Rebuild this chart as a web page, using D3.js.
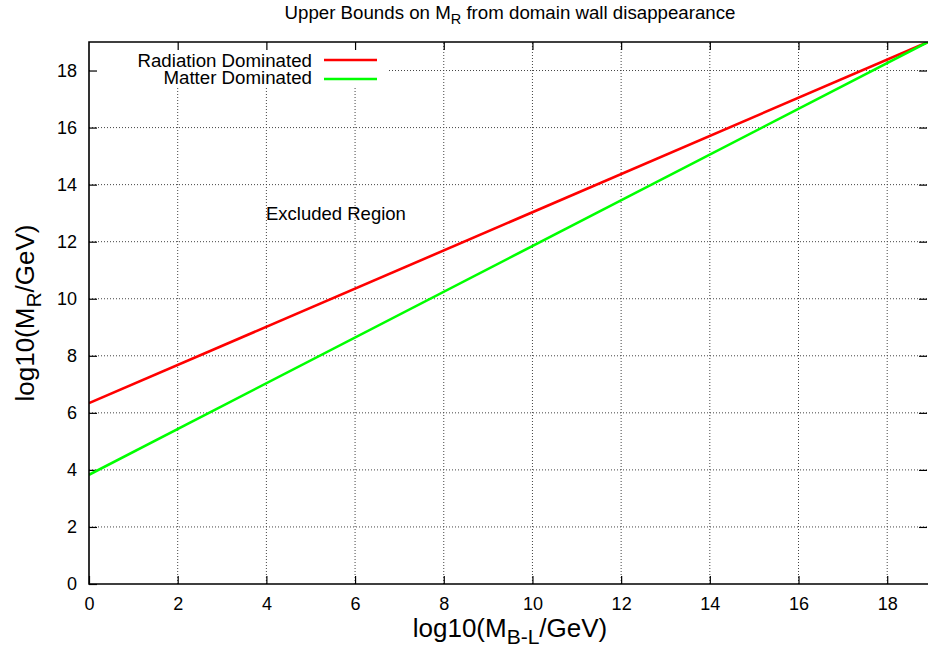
<!DOCTYPE html>
<html>
<head>
<meta charset="utf-8">
<script src="https://d3js.org/d3.v7.min.js"></script>
<style>
    body { margin: 0; background: #fff; }
    svg { display: block; font-family: "Liberation Sans", Arial, Helvetica, sans-serif; }
</style>
</head>
<body>
<svg width="928" height="650"></svg>
<script>
    // log10(M_B-L/GeV) at the two ends of each bound
    const xVals = [0, 18.92];
    const radiation = [6.34, 19.0];
    const matter = [3.83, 19.0];
    const xTicks = [0, 2, 4, 6, 8, 10, 12, 14, 16, 18];
    const yTicks = [0, 2, 4, 6, 8, 10, 12, 14, 16, 18];
    const series = [
        { name: "Radiation Dominated", values: radiation, color: "#ff0000" },
        { name: "Matter Dominated", values: matter, color: "#00ff00" }
    ];

    const margin = { top: 42, right: 0, bottom: 66, left: 89 };
    const width = 928, height = 650;

    const svg = d3.select("svg");

    const x = d3.scaleLinear().domain([0, 18.92]).range([margin.left, width - margin.right]);
    const y = d3.scaleLinear().domain([0, 19]).range([height - margin.bottom, margin.top]);

    // grid
    const grid = svg.append("g")
        .attr("stroke", "#444")
        .attr("stroke-width", 1)
        .attr("stroke-dasharray", "1,2");
    grid.selectAll("line.gx")
        .data(xTicks.filter(d => d > 0))
        .join("line")
        .attr("class", "gx")
        .attr("x1", d => x(d)).attr("x2", d => x(d))
        .attr("y1", y(0)).attr("y2", y(19));
    grid.selectAll("line.gy")
        .data(yTicks.filter(d => d > 0))
        .join("line")
        .attr("class", "gy")
        .attr("x1", x(0)).attr("x2", x(18.92))
        .attr("y1", d => y(d)).attr("y2", d => y(d));

    // key area hides the grid
    svg.append("rect")
        .attr("x", margin.left + 1).attr("y", margin.top + 1)
        .attr("width", 298).attr("height", 45)
        .attr("fill", "#fff");

    // axes with inward ticks, mirrored on top and right
    const tickLen = 8;
    const axisStyle = g => {
        g.select(".domain").remove();
        g.selectAll(".tick line").attr("stroke", "#000").attr("stroke-width", 1.2);
        g.selectAll(".tick text").attr("fill", "#000").style("font-size", "18px")
            .style("font-family", "'Liberation Sans', Arial, sans-serif");
    };

    svg.append("g")
        .attr("transform", `translate(0,${y(0)})`)
        .call(d3.axisBottom(x).tickValues(xTicks).tickFormat(d3.format("d"))
            .tickSizeInner(-tickLen).tickSizeOuter(0).tickPadding(13))
        .call(axisStyle);
    svg.append("g")
        .attr("transform", `translate(0,${y(19)})`)
        .call(d3.axisTop(x).tickValues(xTicks.filter(d => d > 0)).tickFormat("")
            .tickSizeInner(-tickLen).tickSizeOuter(0))
        .call(axisStyle);
    svg.append("g")
        .attr("transform", `translate(${x(0)},0)`)
        .call(d3.axisLeft(y).tickValues(yTicks).tickFormat(d3.format("d"))
            .tickSizeInner(-tickLen).tickSizeOuter(0).tickPadding(12))
        .call(axisStyle);
    svg.append("g")
        .attr("transform", `translate(${x(18.92) - 1},0)`)
        .call(d3.axisRight(y).tickValues(yTicks.filter(d => d > 0)).tickFormat("")
            .tickSizeInner(-tickLen).tickSizeOuter(0))
        .call(axisStyle);

    // data lines
    svg.append("clipPath").attr("id", "plot-clip")
        .append("rect")
        .attr("x", x(0)).attr("y", y(19))
        .attr("width", x(18.92) - x(0)).attr("height", y(0) - y(19));

    const line = d3.line()
        .x((d, i) => x(xVals[i]))
        .y(d => y(d));

    svg.append("g").attr("clip-path", "url(#plot-clip)")
        .selectAll("path")
        .data(series)
        .join("path")
        .attr("fill", "none")
        .attr("stroke", d => d.color)
        .attr("stroke-width", 2.6)
        .attr("d", d => line(d.values));

    // border: left, bottom, top
    svg.append("path")
        .attr("fill", "none")
        .attr("stroke", "#000")
        .attr("stroke-width", 1.6)
        .attr("d", `M${width},${y(19)}H${x(0)}V${y(0)}H${width}`);

    // key
    const key = svg.append("g").style("font-size", "18.7px");
    series.forEach((s, i) => {
        key.append("text")
            .attr("x", 312).attr("y", 66.5 + i * 17.5)
            .attr("text-anchor", "end")
            .text(s.name);
        key.append("line")
            .attr("x1", 324).attr("x2", 377)
            .attr("y1", 60 + i * 19).attr("y2", 60 + i * 19)
            .attr("stroke", s.color)
            .attr("stroke-width", 2.6);
    });

    // annotation
    svg.append("text")
        .attr("x", 266).attr("y", 220)
        .style("font-size", "18.5px")
        .text("Excluded Region");

    // title
    const title = svg.append("text")
        .attr("x", 510).attr("y", 19)
        .attr("text-anchor", "middle")
        .style("font-size", "18.7px");
    title.append("tspan").text("Upper Bounds on M");
    title.append("tspan").attr("dy", 5).style("font-size", "14.5px").text("R");
    title.append("tspan").attr("dy", -5).text(" from domain wall disappearance");

    // axis labels
    const xl = svg.append("text")
        .attr("x", 510).attr("y", 637)
        .attr("text-anchor", "middle")
        .style("font-size", "26px");
    xl.append("tspan").text("log10(M");
    xl.append("tspan").attr("dy", 7).style("font-size", "21px").text("B-L");
    xl.append("tspan").attr("dy", -7).text("/GeV)");

    const yl = svg.append("text")
        .attr("transform", "translate(34,313) rotate(-90)")
        .attr("text-anchor", "middle")
        .style("font-size", "26px");
    yl.append("tspan").text("log10(M");
    yl.append("tspan").attr("dy", 7).style("font-size", "21px").text("R");
    yl.append("tspan").attr("dy", -7).text("/GeV)");
</script>
</body>
</html>
